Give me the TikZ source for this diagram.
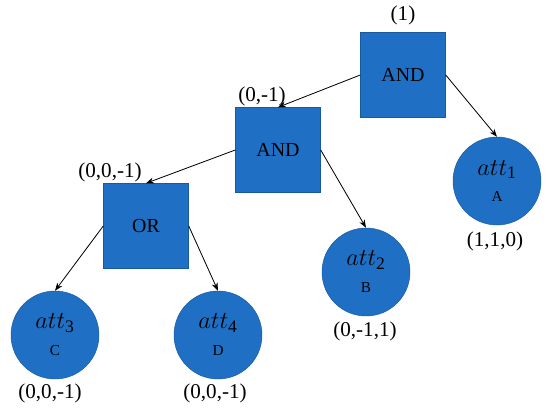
\documentclass[tikz,border=0pt]{standalone}
\usepackage{fontspec}
\setmainfont{Liberation Serif}
\usetikzlibrary{arrows.meta, positioning}
\definecolor{nodeblue}{RGB}{31,112,196}
\newcommand{\attname}[1]{$att_{\mbox{\fontsize{15}{17}\selectfont #1}}$}

\begin{document}
\begin{tikzpicture}[x=0.03cm, y=-0.03cm,
    gate/.style={rectangle, draw=nodeblue!80!black, fill=nodeblue,
                 minimum size=2.55cm, font=\fontsize{17}{20}\selectfont},
    leaf/.style={circle, draw=nodeblue!80!black, fill=nodeblue,
                 minimum size=2.64cm, align=center, inner sep=0pt,
                 font=\fontsize{21}{24}\selectfont},
    arrow/.style={-{Stealth[length=2.4mm, width=1.8mm]}, line width=0.7pt},
    lab/.style={font=\fontsize{18}{21}\selectfont},
]
\useasboundingbox (0,0) rectangle (550,413);

% ---------- gates ----------
\node[gate] (and1) at (403,75)  {AND};
\node[gate] (and2) at (278,150) {AND};
\node[gate] (or)   at (146,226) {OR};

% ---------- leaves ----------
\node[leaf] (att1) at (497,181) {\attname{1}\\[-1pt]{\fontsize{13}{15}\selectfont A}};
\node[leaf] (att2) at (366,272) {\attname{2}\\[-1pt]{\fontsize{13}{15}\selectfont B}};
\node[leaf] (att3) at (55,335)  {\attname{3}\\[-1pt]{\fontsize{13}{15}\selectfont C}};
\node[leaf] (att4) at (218,335) {\attname{4}\\[-1pt]{\fontsize{13}{15}\selectfont D}};

% ---------- vectors ----------
\node[lab] (v1)  at (403,15)  {(1)};
\node[lab] (v2)  at (262,96)  {(0,-1)};
\node[lab] (v3)  at (110,172) {(0,0,-1)};
\node[lab] (va)  at (495,241) {(1,1,0)};
\node[lab] (vb)  at (365,331) {(0,-1,1)};
\node[lab] (vc)  at (50,393)  {(0,0,-1)};
\node[lab] (vd)  at (215,393) {(0,0,-1)};

% ---------- edges ----------
\draw[arrow] (and1.west) -- (and2.north);
\draw[arrow] (and1.east) -- (att1.north);
\draw[arrow] (and2.west) -- (or.north);
\draw[arrow] (and2.east) -- (att2.north);
\draw[arrow] (or.west)   -- (att3.north);
\draw[arrow] (or.east)   -- (att4.north);

\end{tikzpicture}
\end{document}
